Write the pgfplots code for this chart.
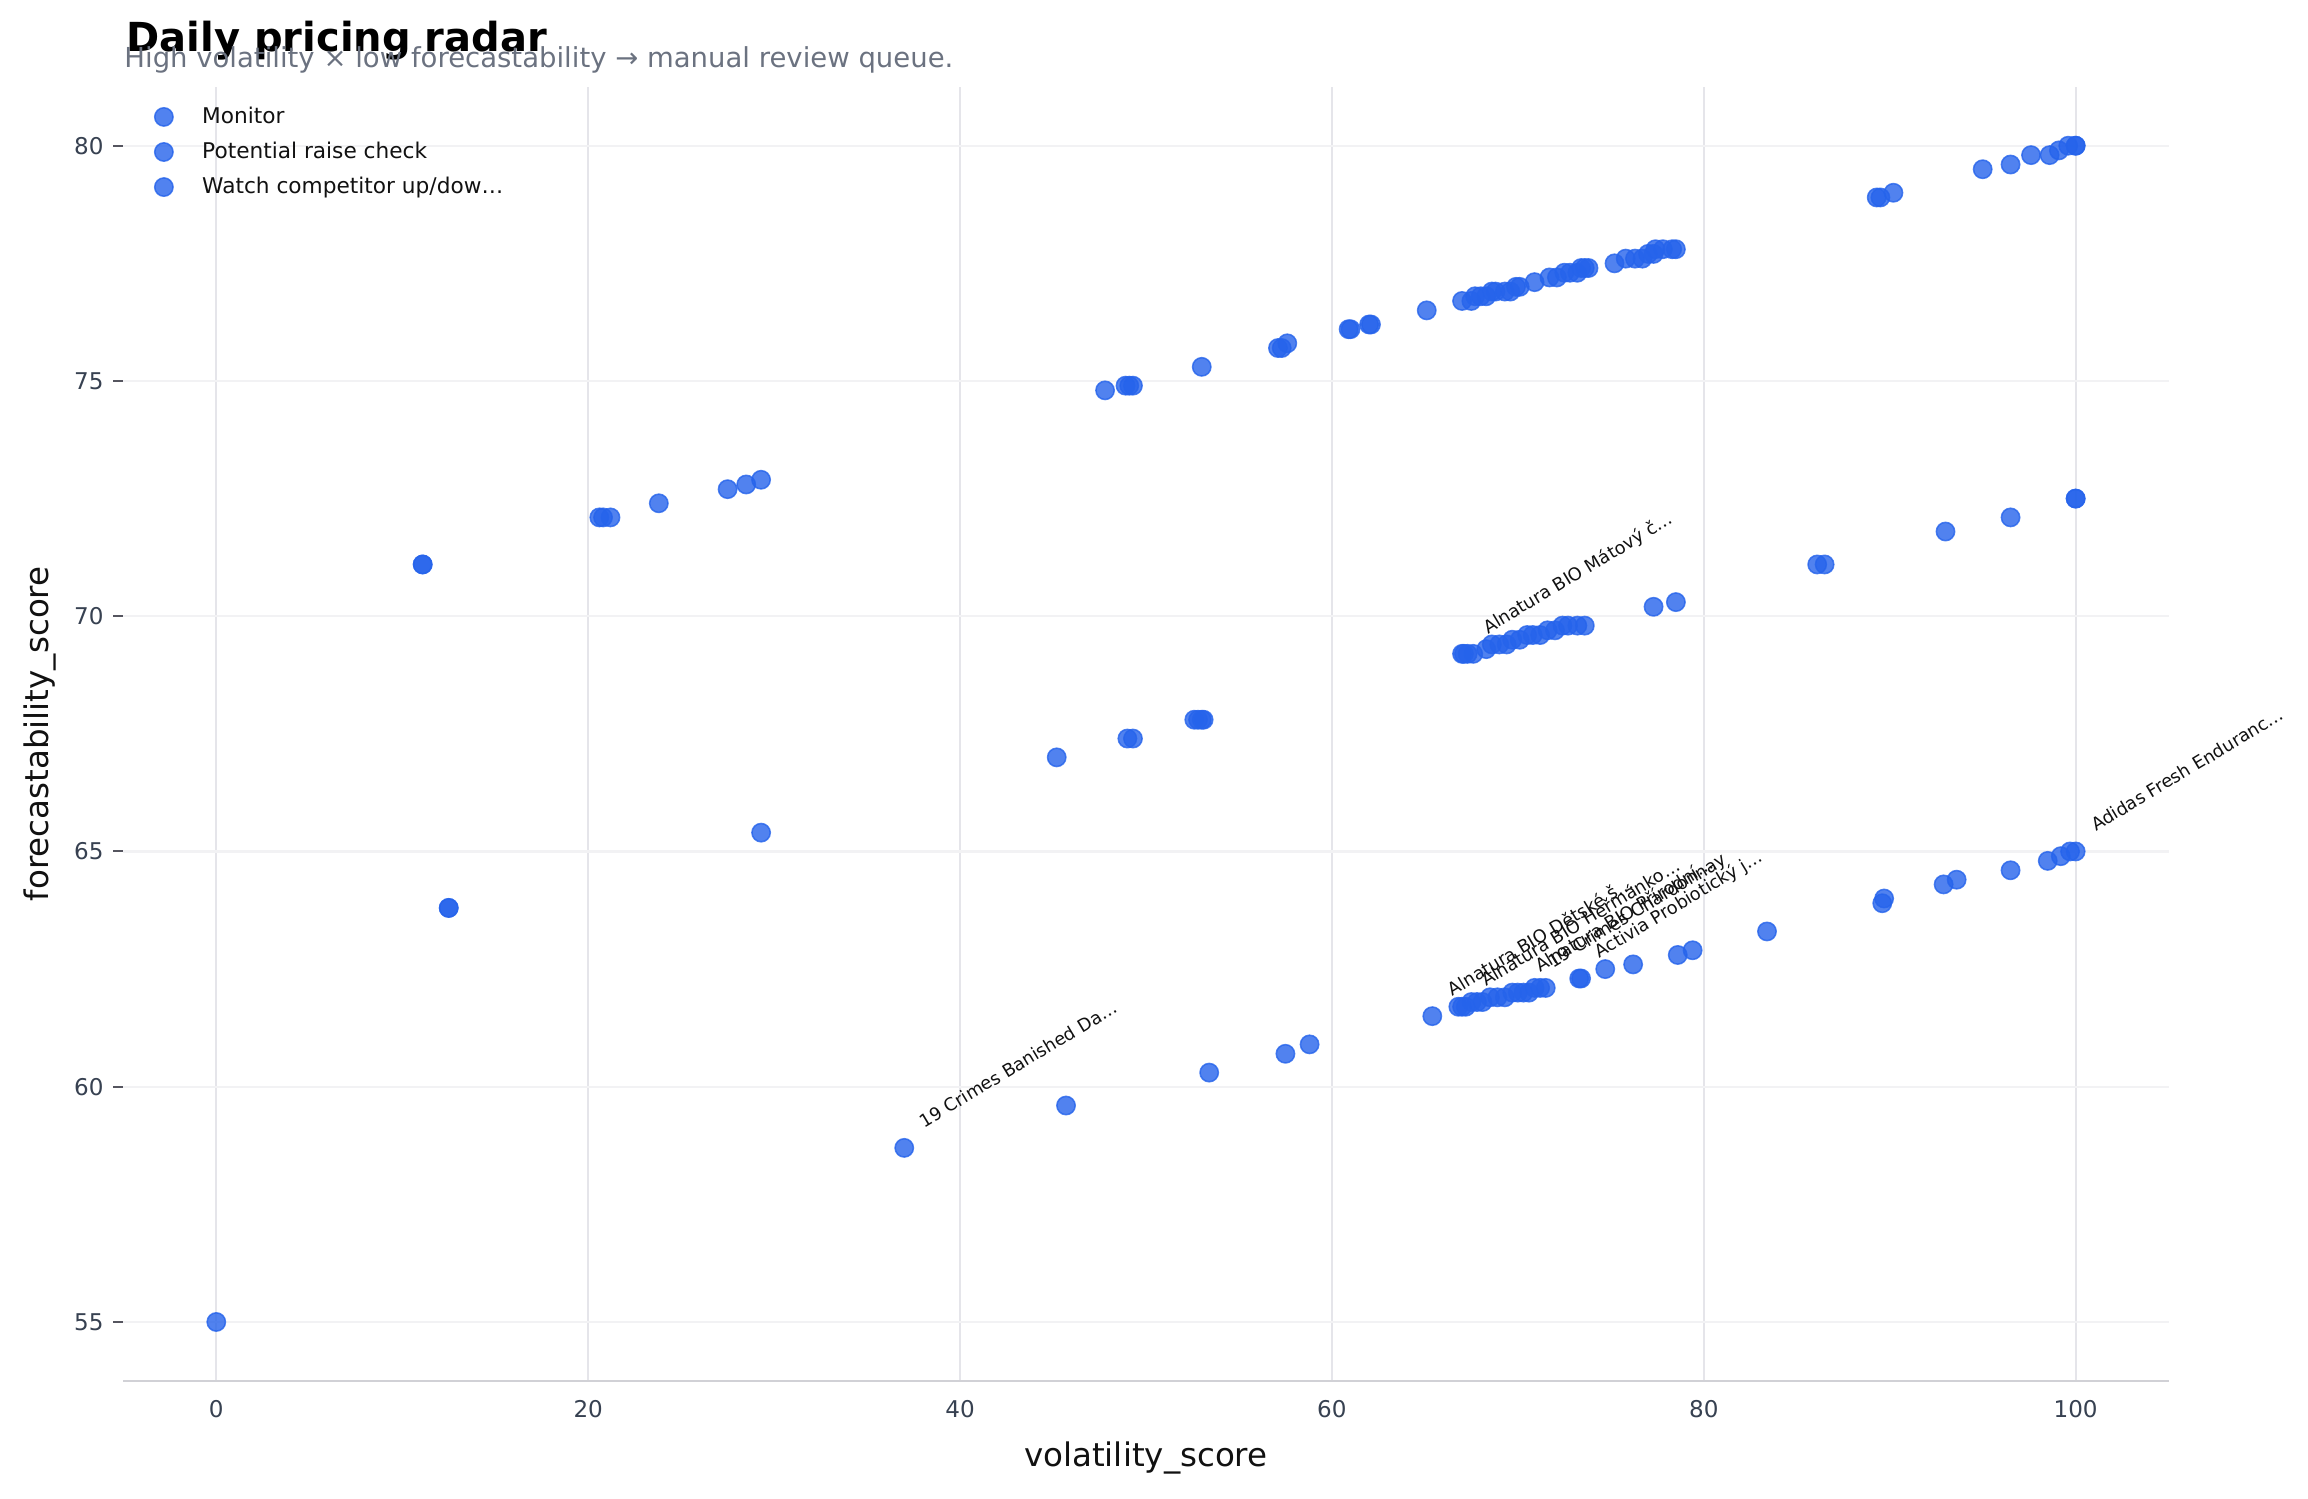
\documentclass[border=0pt]{standalone}
\usepackage{fontspec}
\setmainfont{DejaVu Sans}
\usepackage{pgfplots}
\pgfplotsset{compat=1.18}

\definecolor{markblue}{HTML}{2563EB}
\definecolor{vgrid}{RGB}{229,229,234}
\definecolor{hgrid}{RGB}{242,242,244}
\definecolor{spinec}{RGB}{209,209,214}
\definecolor{tickc}{RGB}{85,85,95}
\definecolor{ticktext}{RGB}{55,65,81}
\definecolor{subgray}{RGB}{107,114,128}
\definecolor{inkc}{RGB}{17,17,17}

\tikzset{
  anno/.style={anchor=base west, inner sep=0pt, xshift=7.2pt, yshift=7pt,
               rotate=31, font=\fontsize{6.4}{7.7}\selectfont, text=inkc},
}
\pgfplotsset{
  dot/.style={
    only marks, mark=*, mark size=3.3pt,
    mark options={fill=markblue, draw=markblue, fill opacity=0.8,
                  draw opacity=0.8, line width=0.55pt},
  },
}

\begin{document}
\begin{tikzpicture}
\path[use as bounding box] (0,0) rectangle (830.88pt,539.28pt);

\begin{axis}[
  at={(44.4pt,42.2pt)}, anchor=south west,
  scale only axis, width=736.3pt, height=465.8pt,
  xmin=-5, xmax=105, ymin=53.75, ymax=81.25,
  clip=false,
  axis line style={draw=none},
  xtick={0,20,...,100}, ytick={55,60,...,80},
  tick pos=left, tick align=outside,
  major tick length=3.6pt,
  xtick style={draw=none},
  ytick style={draw=tickc, line width=0.7pt},
  grid=major,
  x grid style={color=vgrid, line width=0.75pt},
  y grid style={color=hgrid, line width=0.75pt},
  ticklabel style={font=\fontsize{8.3}{10}\selectfont, text=ticktext},
  /pgf/number format/assume math mode=true,
  legend style={
    at={(axis description cs:0,1)}, anchor=north west,
    xshift=11.1pt, yshift=-6.9pt,
    draw=none, fill=none, inner sep=0pt,
    row sep=5.2pt, column sep=10.5pt,
    font=\fontsize{7.8}{9.4}\selectfont,
    nodes={inner sep=0pt, text=inkc},
  },
  legend cell align=left,
  legend image code/.code={\draw[#1] plot coordinates {(0pt,0pt)};},
]

% upper band
\addplot[dot] coordinates {
 (11.1,71.1) (11.1,71.1) (20.6,72.1) (20.8,72.1) (21.2,72.1) (23.8,72.4)
 (27.5,72.7) (28.5,72.8) (29.3,72.9)
 (47.8,74.8) (48.9,74.9) (49.1,74.9) (49.3,74.9) (53.0,75.3)
 (57.1,75.7) (57.3,75.7) (57.6,75.8) (60.9,76.1) (61.0,76.1) (62.0,76.2) (62.1,76.2)
 (65.1,76.5) (67.0,76.7) (67.5,76.7) (67.7,76.8) (68.0,76.8) (68.3,76.8)
 (68.6,76.9) (68.8,76.9) (69.3,76.9) (69.6,76.9) (69.9,77.0) (70.1,77.0)
 (70.9,77.1) (71.7,77.2) (72.1,77.2) (72.5,77.3) (72.8,77.3) (73.2,77.3)
 (73.4,77.4) (73.6,77.4) (73.8,77.4) (75.2,77.5) (75.8,77.6) (76.3,77.6)
 (76.7,77.6) (77.0,77.7) (77.3,77.7) (77.4,77.8) (77.8,77.8) (78.3,77.8) (78.5,77.8)
 (89.3,78.9) (89.5,78.9) (90.2,79.0) (95.0,79.5) (96.5,79.6) (97.6,79.8)
 (98.6,79.8) (99.1,79.9) (99.6,80.0) (100,80.0) (100,80.0)
};
\addlegendentry{Monitor}

% middle band
\addplot[dot] coordinates {
 (12.5,63.8) (12.5,63.8) (29.3,65.4) (45.2,67.0) (49.0,67.4) (49.3,67.4)
 (52.6,67.8) (52.8,67.8) (53.0,67.8) (53.1,67.8)
 (67.0,69.2) (67.1,69.2) (67.3,69.2) (67.6,69.2) (68.3,69.3) (68.6,69.4)
 (69.0,69.4) (69.4,69.4) (69.7,69.5) (70.1,69.5) (70.5,69.6) (70.8,69.6)
 (71.2,69.6) (71.6,69.7) (72.0,69.7) (72.4,69.8) (72.7,69.8) (73.2,69.8) (73.6,69.8)
 (77.3,70.2) (78.5,70.3) (86.1,71.1) (86.5,71.1) (93.0,71.8) (96.5,72.1)
 (100,72.5) (100,72.5)
};
\addlegendentry{Potential raise check}

% lower band
\addplot[dot] coordinates {
 (0,55.0) (37.0,58.7) (45.7,59.6) (53.4,60.3) (57.5,60.7) (58.8,60.9)
 (65.4,61.5) (66.8,61.7) (67.0,61.7) (67.2,61.7) (67.5,61.8) (67.8,61.8)
 (68.1,61.8) (68.5,61.9) (68.9,61.9) (69.3,61.9) (69.7,62.0) (70.0,62.0)
 (70.3,62.0) (70.6,62.0) (70.9,62.1) (71.2,62.1) (71.5,62.1)
 (73.3,62.3) (73.4,62.3) (74.7,62.5) (76.2,62.6) (78.6,62.8) (79.4,62.9)
 (83.4,63.3) (89.6,63.9) (89.7,64.0) (92.9,64.3) (93.6,64.4) (96.5,64.6)
 (98.5,64.8) (99.2,64.9) (99.7,65.0) (100,65.0)
};
\addlegendentry{Watch competitor up/dow…}

% bottom spine
\draw[spinec, line width=0.8pt] (rel axis cs:0,0) -- (rel axis cs:1,0);

% flagged products
\node[anno] at (axis cs:37.0,58.7) {19 Crimes Banished Da…};
\node[anno] at (axis cs:100,65.0) {Adidas Fresh Enduranc…};
\node[anno] at (axis cs:67.3,69.2) {Alnatura BIO Mátový č…};
\node[anno] at (axis cs:65.4,61.5) {Alnatura BIO Dětské š…};
\node[anno] at (axis cs:67.2,61.7) {Alnatura BIO Heřmánko…};
\node[anno] at (axis cs:70.1,62.0) {Alnatura BIO Přírodní…};
\node[anno] at (axis cs:70.8,62.1) {19 Crimes Chardonnay};
\node[anno] at (axis cs:73.3,62.3) {Activia Probiotický j…};
\end{axis}

% titles and axis labels
\node[anchor=base west, inner sep=0pt, font=\fontsize{14.4}{17}\selectfont\bfseries, text=black]
  at (45.4pt,520.9pt) {Daily pricing radar};
\node[anchor=base west, inner sep=0pt, font=\fontsize{9.9}{12}\selectfont, text=subgray]
  at (44.6pt,515.0pt) {High volatility × low forecastability → manual review queue.};
\node[anchor=base, inner sep=0pt, font=\fontsize{11.7}{14}\selectfont, text=inkc]
  at (412.5pt,11.5pt) {volatility\_score};
\node[anchor=base, inner sep=0pt, rotate=90, font=\fontsize{11.7}{14}\selectfont, text=inkc]
  at (17.5pt,275.1pt) {forecastability\_score};
\end{tikzpicture}
\end{document}
